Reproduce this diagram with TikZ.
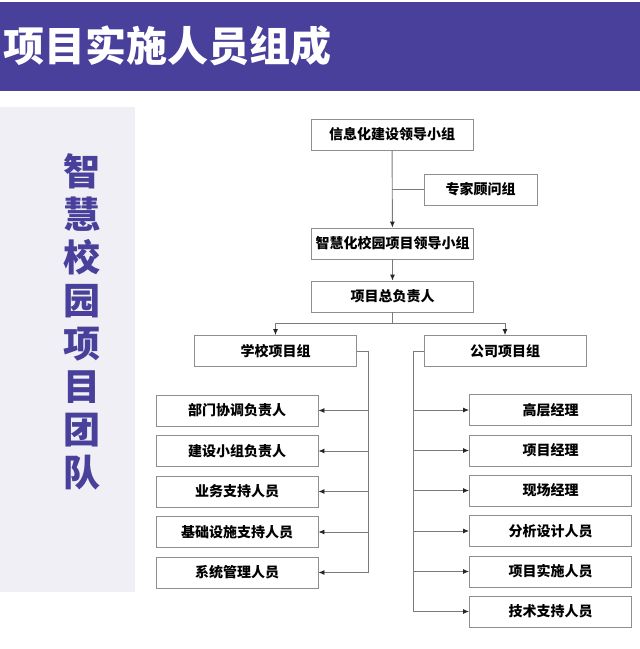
\documentclass[tikz,border=0pt]{standalone}
\usepackage{fontspec}
\setmainfont{Noto Sans CJK SC}
\newfontfamily\nero{Noto Sans CJK SC Black}
\usepackage{tikz}
\usetikzlibrary{arrows.meta}
\definecolor{viola}{HTML}{48409A}
\definecolor{grigio}{HTML}{F0EFF5}
\definecolor{bordo}{HTML}{8E8E8E}
\definecolor{filo}{HTML}{7A7A7A}

\begin{document}
\begin{tikzpicture}[
      x=1pt, y=-1pt,
      box/.style={draw=bordo, fill=white, line width=0.9pt, minimum width=162pt, minimum height=31pt, inner sep=0pt, font=\fontsize{14}{16}\selectfont\bfseries},
      linea/.style={draw=filo, line width=0.9pt},
      freccia/.style={linea, -{Latex[length=6pt,width=5pt,color=black!85]}}
    ]
    \useasboundingbox (0,0) rectangle (640,649);
    % Intestazione
    \fill[viola] (0,2) rectangle (640,91);
    \node[anchor=west, inner sep=0pt, text=white, font=\fontsize{41}{45}\selectfont\nero] (titolo) at (3,46) {项目实施人员组成};
    % Colonna laterale
    \fill[grigio] (0,107) rectangle (135,592);
    \node[inner sep=0pt, text=viola, align=center, font=\fontsize{37}{43}\selectfont\nero] (squadra) at (82,322) {智\\慧\\校\\园\\项\\目\\团\\队};

    % Vertice
    \node[box] (guida) at (392,134.5) {信息化建设领导小组};
    \node[box, minimum width=113pt] (esperti) at (480.5,189.5) {专家顾问组};
    \node[box] (leader) at (392.5,243.5) {智慧化校园项目领导小组};
    \node[box] (capo) at (392.5,296.5) {项目总负责人};
    \node[box] (scuola) at (275.5,351) {学校项目组};
    \node[box] (azienda) at (505,351) {公司项目组};

    % Gruppo scuola
    \node[box] (s1) at (237,410.5) {部门协调负责人};
    \node[box] (s2) at (237,451)   {建设小组负责人};
    \node[box] (s3) at (237,491.5) {业务支持人员};
    \node[box] (s4) at (237,532)   {基础设施支持人员};
    \node[box] (s5) at (237,572.5) {系统管理人员};

    % Gruppo azienda
    \node[box] (a1) at (550.5,410)   {高层经理};
    \node[box] (a2) at (550.5,450.5) {项目经理};
    \node[box] (a3) at (550.5,490.5) {现场经理};
    \node[box] (a4) at (550.5,531)   {分析设计人员};
    \node[box] (a5) at (550.5,571.5) {项目实施人员};
    \node[box] (a6) at (550.5,611.5) {技术支持人员};

    % Collegamenti
    \draw[freccia] (guida) -- (leader);
    \draw[linea] (esperti.west) -- (esperti.west -| guida.south);
    \draw[freccia] (leader) -- (capo);
    \draw[freccia] (capo.south) -- ++(0,11) -| (scuola.north);
    \draw[freccia] (capo.south) -- ++(0,11) -| (azienda.north);

    \coordinate (dorsoS) at (368,351);
    \draw[freccia] (scuola.east) -- (dorsoS) |- (s5.east);
    \draw[freccia] (dorsoS |- s1.east) -- (s1.east);
    \draw[freccia] (dorsoS |- s2.east) -- (s2.east);
    \draw[freccia] (dorsoS |- s3.east) -- (s3.east);
    \draw[freccia] (dorsoS |- s4.east) -- (s4.east);

    \coordinate (dorsoA) at (413,351);
    \draw[freccia] (azienda.west) -- (dorsoA) |- (a6.west);
    \draw[freccia] (dorsoA |- a1.west) -- (a1.west);
    \draw[freccia] (dorsoA |- a2.west) -- (a2.west);
    \draw[freccia] (dorsoA |- a3.west) -- (a3.west);
    \draw[freccia] (dorsoA |- a4.west) -- (a4.west);
    \draw[freccia] (dorsoA |- a5.west) -- (a5.west);
  \end{tikzpicture}
\end{document}
